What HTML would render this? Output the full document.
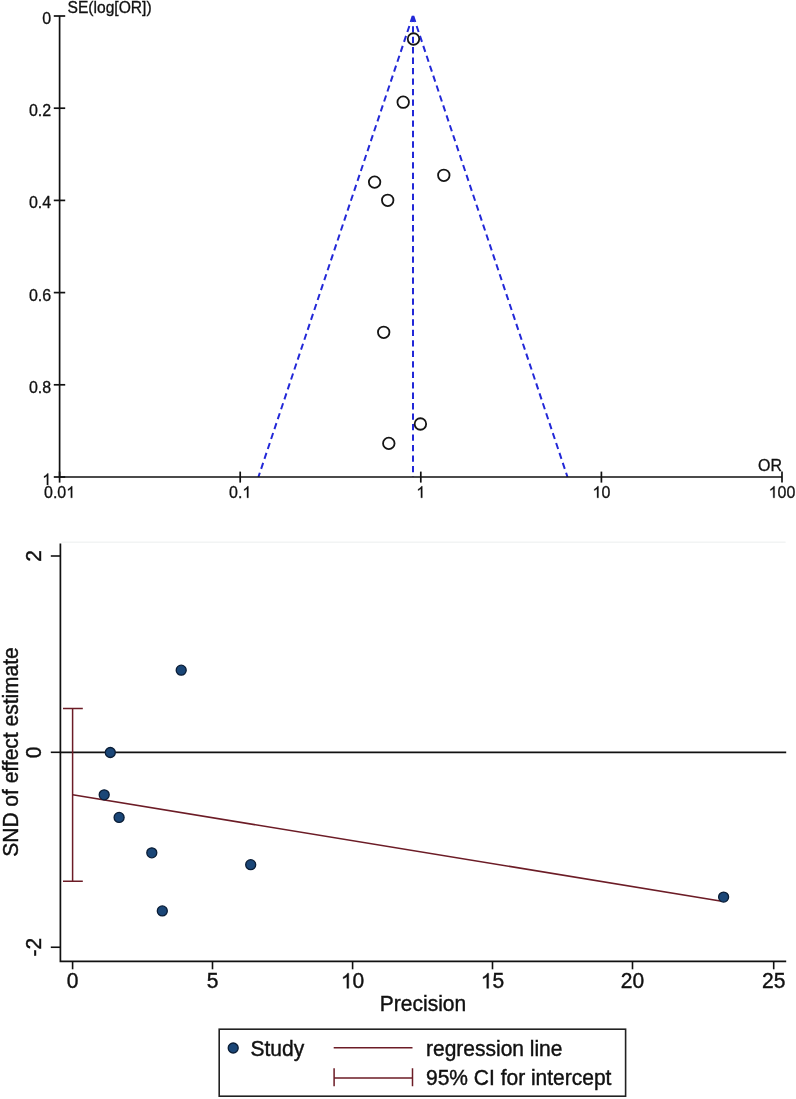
<!DOCTYPE html>
<html><head><meta charset="utf-8"><style>
html,body{margin:0;padding:0;background:#fff;}
body{width:796px;height:1099px;overflow:hidden;}
svg{display:block;will-change:transform;}
.t1{font-family:"Liberation Sans",sans-serif;font-size:16px;fill:#111;stroke:#111;stroke-width:0.3px;}
.t2{font-family:"Liberation Sans",sans-serif;font-size:21px;fill:#111;stroke:#111;stroke-width:0.4px;}
</style></head><body>
<svg width="796" height="1099" viewBox="0 0 796 1099">
<rect width="796" height="1099" fill="#fff"/>
<path d="M413.0,15.1 L258.4,477.0" stroke="#2228d8" stroke-width="2" stroke-dasharray="6.3 4.17" stroke-dashoffset="-1" fill="none"/>
<path d="M413.0,15.1 L567.5,477.0" stroke="#2228d8" stroke-width="2" stroke-dasharray="6.3 4.17" stroke-dashoffset="-1" fill="none"/>
<path d="M413.0,15.1 L413.0,477.0" stroke="#2228d8" stroke-width="2" stroke-dasharray="6.3 4.17" stroke-dashoffset="-0.6" fill="none"/>
<path d="M59.6,16.0 L59.6,477.0 L782.0,477.0" stroke="#111" stroke-width="1.7" fill="none"/>
<path d="M53.800000000000004,16.0 H65.2" stroke="#111" stroke-width="1.7"/>
<g transform="translate(51.20,23.90)"><text x="-8.90" y="0" transform="scale(1,1.04)" class="t1">0</text></g>
<path d="M53.800000000000004,108.2 H65.2" stroke="#111" stroke-width="1.7"/>
<g transform="translate(51.20,116.10)"><text x="-22.24" y="0" transform="scale(1,1.04)" class="t1">0.2</text></g>
<path d="M53.800000000000004,200.4 H65.2" stroke="#111" stroke-width="1.7"/>
<g transform="translate(51.20,208.30)"><text x="-22.24" y="0" transform="scale(1,1.04)" class="t1">0.4</text></g>
<path d="M53.800000000000004,292.6 H65.2" stroke="#111" stroke-width="1.7"/>
<g transform="translate(51.20,300.50)"><text x="-22.24" y="0" transform="scale(1,1.04)" class="t1">0.6</text></g>
<path d="M53.800000000000004,384.8 H65.2" stroke="#111" stroke-width="1.7"/>
<g transform="translate(51.20,392.70)"><text x="-22.24" y="0" transform="scale(1,1.04)" class="t1">0.8</text></g>
<path d="M53.800000000000004,477.0 H65.2" stroke="#111" stroke-width="1.7"/>
<g transform="translate(51.20,484.90)"><text x="-8.90" y="0" transform="scale(1,1.04)" class="t1"> </text><path d="M763 0H583V1147Q518 1085 412.5 1023Q307 961 223 930V1104Q374 1175 487 1276Q600 1377 647 1472H763V0Z" transform="translate(-8.90,0) scale(0.00781,-0.00781)" fill="#111" stroke="#111" stroke-width="38.4"/></g>
<path d="M59.6,471.6 V482.6" stroke="#111" stroke-width="1.7"/>
<g transform="translate(59.60,497.80)"><text x="-15.57" y="0" transform="scale(1,1.04)" class="t1">0.0 </text><path d="M763 0H583V1147Q518 1085 412.5 1023Q307 961 223 930V1104Q374 1175 487 1276Q600 1377 647 1472H763V0Z" transform="translate(6.67,0) scale(0.00781,-0.00781)" fill="#111" stroke="#111" stroke-width="38.4"/></g>
<path d="M240.2,471.6 V482.6" stroke="#111" stroke-width="1.7"/>
<g transform="translate(240.20,497.80)"><text x="-11.12" y="0" transform="scale(1,1.04)" class="t1">0. </text><path d="M763 0H583V1147Q518 1085 412.5 1023Q307 961 223 930V1104Q374 1175 487 1276Q600 1377 647 1472H763V0Z" transform="translate(2.22,0) scale(0.00781,-0.00781)" fill="#111" stroke="#111" stroke-width="38.4"/></g>
<path d="M420.8,471.6 V482.6" stroke="#111" stroke-width="1.7"/>
<g transform="translate(420.80,497.80)"><text x="-4.45" y="0" transform="scale(1,1.04)" class="t1"> </text><path d="M763 0H583V1147Q518 1085 412.5 1023Q307 961 223 930V1104Q374 1175 487 1276Q600 1377 647 1472H763V0Z" transform="translate(-4.45,0) scale(0.00781,-0.00781)" fill="#111" stroke="#111" stroke-width="38.4"/></g>
<path d="M601.4,471.6 V482.6" stroke="#111" stroke-width="1.7"/>
<g transform="translate(601.40,497.80)"><text x="-8.90" y="0" transform="scale(1,1.04)" class="t1"> 0</text><path d="M763 0H583V1147Q518 1085 412.5 1023Q307 961 223 930V1104Q374 1175 487 1276Q600 1377 647 1472H763V0Z" transform="translate(-8.90,0) scale(0.00781,-0.00781)" fill="#111" stroke="#111" stroke-width="38.4"/></g>
<path d="M782.0,471.6 V482.6" stroke="#111" stroke-width="1.7"/>
<g transform="translate(782.00,497.80)"><text x="-13.35" y="0" transform="scale(1,1.04)" class="t1"> 00</text><path d="M763 0H583V1147Q518 1085 412.5 1023Q307 961 223 930V1104Q374 1175 487 1276Q600 1377 647 1472H763V0Z" transform="translate(-13.35,0) scale(0.00781,-0.00781)" fill="#111" stroke="#111" stroke-width="38.4"/></g>
<g transform="translate(67.50,12.60)"><text x="0" y="0" transform="scale(0.977,1.04)" text-anchor="start" class="t1">SE(log[OR])</text></g>
<g transform="translate(782.00,470.80)"><text x="0" y="0" transform="scale(1,1.04)" text-anchor="end" class="t1">OR</text></g>
<circle cx="413.5" cy="39" r="5.75" fill="none" stroke="#151515" stroke-width="1.8"/>
<circle cx="403.2" cy="102.2" r="5.75" fill="none" stroke="#151515" stroke-width="1.8"/>
<circle cx="443.8" cy="175.3" r="5.75" fill="none" stroke="#151515" stroke-width="1.8"/>
<circle cx="374.6" cy="182.1" r="5.75" fill="none" stroke="#151515" stroke-width="1.8"/>
<circle cx="387.7" cy="200.3" r="5.75" fill="none" stroke="#151515" stroke-width="1.8"/>
<circle cx="383.7" cy="332.3" r="5.75" fill="none" stroke="#151515" stroke-width="1.8"/>
<circle cx="420.4" cy="424" r="5.75" fill="none" stroke="#151515" stroke-width="1.8"/>
<circle cx="388.8" cy="443.4" r="5.75" fill="none" stroke="#151515" stroke-width="1.8"/>
<path d="M61.5,542.3 H785.6" stroke="#f2f4f4" stroke-width="1.4" fill="none"/>
<path d="M60.4,543.6 V961.3 H786.2" stroke="#111" stroke-width="1.7" fill="none"/>
<path d="M60.4,752.3 H786.2" stroke="#111" stroke-width="1.7" fill="none"/>
<path d="M50.8,556.00 H60.4" stroke="#111" stroke-width="1.6"/>
<g transform="translate(40.80,556.00) rotate(-90)"><text x="-5.84" y="0" transform="scale(1,1.04)" class="t2">2</text></g>
<path d="M50.8,752.30 H60.4" stroke="#111" stroke-width="1.6"/>
<g transform="translate(40.80,752.30) rotate(-90)"><text x="-5.84" y="0" transform="scale(1,1.04)" class="t2">0</text></g>
<path d="M50.8,947.25 H60.4" stroke="#111" stroke-width="1.6"/>
<g transform="translate(40.80,947.25) rotate(-90)"><text x="-9.34" y="0" transform="scale(1,1.04)" class="t2">-2</text></g>
<path d="M72.6,961.3 V969.3" stroke="#111" stroke-width="1.6"/>
<g transform="translate(72.60,988.30)"><text x="-5.84" y="0" transform="scale(1,1.04)" class="t2">0</text></g>
<path d="M212.5,961.3 V969.3" stroke="#111" stroke-width="1.6"/>
<g transform="translate(212.50,988.30)"><text x="-5.84" y="0" transform="scale(1,1.04)" class="t2">5</text></g>
<path d="M352.6,961.3 V969.3" stroke="#111" stroke-width="1.6"/>
<g transform="translate(352.60,988.30)"><text x="-11.68" y="0" transform="scale(1,1.04)" class="t2"> 0</text><path d="M763 0H583V1147Q518 1085 412.5 1023Q307 961 223 930V1104Q374 1175 487 1276Q600 1377 647 1472H763V0Z" transform="translate(-11.68,0) scale(0.01025,-0.01025)" fill="#111" stroke="#111" stroke-width="39.0"/></g>
<path d="M492.5,961.3 V969.3" stroke="#111" stroke-width="1.6"/>
<g transform="translate(492.50,988.30)"><text x="-11.68" y="0" transform="scale(1,1.04)" class="t2"> 5</text><path d="M763 0H583V1147Q518 1085 412.5 1023Q307 961 223 930V1104Q374 1175 487 1276Q600 1377 647 1472H763V0Z" transform="translate(-11.68,0) scale(0.01025,-0.01025)" fill="#111" stroke="#111" stroke-width="39.0"/></g>
<path d="M632.5,961.3 V969.3" stroke="#111" stroke-width="1.6"/>
<g transform="translate(632.50,988.30)"><text x="-11.68" y="0" transform="scale(1,1.04)" class="t2">20</text></g>
<path d="M773.7,961.3 V969.3" stroke="#111" stroke-width="1.6"/>
<g transform="translate(773.70,988.30)"><text x="-11.68" y="0" transform="scale(1,1.04)" class="t2">25</text></g>
<g transform="translate(17.90,752.00) rotate(-90)"><text x="0" y="0" transform="scale(1,1.04)" text-anchor="middle" class="t2">SND of effect estimate</text></g>
<g transform="translate(423.00,1010.60)"><text x="0" y="0" transform="scale(1,1.04)" text-anchor="middle" class="t2">Precision</text></g>
<path d="M72.6,708.6 V881.3" stroke="#6c1c26" stroke-width="1.5" fill="none"/>
<path d="M63,708.6 H82.8 M63,881.3 H82.8" stroke="#6c1c26" stroke-width="1.5" fill="none"/>
<path d="M72.6,794.8 L721.8,901.2" stroke="#6c1c26" stroke-width="1.6" fill="none"/>
<circle cx="181.2" cy="670.2" r="5.0" fill="#1a4677" stroke="#0a1d36" stroke-width="1.3"/>
<circle cx="110.3" cy="752.5" r="5.0" fill="#1a4677" stroke="#0a1d36" stroke-width="1.3"/>
<circle cx="104.2" cy="794.8" r="5.0" fill="#1a4677" stroke="#0a1d36" stroke-width="1.3"/>
<circle cx="119.1" cy="817.4" r="5.0" fill="#1a4677" stroke="#0a1d36" stroke-width="1.3"/>
<circle cx="151.8" cy="852.8" r="5.0" fill="#1a4677" stroke="#0a1d36" stroke-width="1.3"/>
<circle cx="250.7" cy="864.7" r="5.0" fill="#1a4677" stroke="#0a1d36" stroke-width="1.3"/>
<circle cx="162.3" cy="910.9" r="5.0" fill="#1a4677" stroke="#0a1d36" stroke-width="1.3"/>
<circle cx="723.6" cy="897.1" r="5.0" fill="#1a4677" stroke="#0a1d36" stroke-width="1.3"/>
<rect x="219.2" y="1029.2" width="406.4" height="67" fill="none" stroke="#222" stroke-width="1.6"/>
<circle cx="233.2" cy="1048" r="5.0" fill="#1a4677" stroke="#0a1d36" stroke-width="1.3"/>
<g transform="translate(250.50,1055.60)"><text x="0" y="0" transform="scale(1,1.04)" text-anchor="start" class="t2">Study</text></g>
<path d="M333.7,1047.8 H412.5" stroke="#6c1c26" stroke-width="1.5"/>
<path d="M334.1,1068.2 V1086.3 M412.5,1068.2 V1086.3 M334.1,1077.9 H412.5" stroke="#6c1c26" stroke-width="1.5" fill="none"/>
<g transform="translate(426.00,1055.60)"><text x="0" y="0" transform="scale(1,1.04)" text-anchor="start" class="t2">regression line</text></g>
<g transform="translate(426.00,1085.40)"><text x="0" y="0" transform="scale(1,1.04)" text-anchor="start" class="t2">95% CI for intercept</text></g>
</svg>
</body></html>
